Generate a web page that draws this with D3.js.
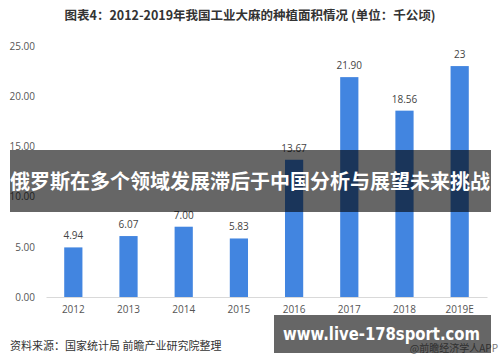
<!DOCTYPE html>
<html lang="zh">
<head>
<meta charset="UTF-8">
<script src="https://cdnjs.cloudflare.com/ajax/libs/d3/7.8.5/d3.min.js"></script>
<style>
    body { margin: 0; background: #fff; }
    svg { display: block; font-family: "Noto Sans CJK SC", "DejaVu Sans", sans-serif; }
</style>
</head>
<body>
<svg id="chart" width="500" height="362"></svg>
<script>
    // data
    var years = ['2012', '2013', '2014', '2015', '2016', '2017', '2018', '2019E'];
    var area = [4.94, 6.07, 7.00, 5.83, 13.67, 21.90, 18.56, 23];
    var areaLabels = ['4.94', '6.07', '7.00', '5.83', '13.67', '21.90', '18.56', '23'];
    var yTicks = [0, 5, 10, 15, 20, 25];

    var svg = d3.select('#chart');

    var x = d3.scaleBand().domain(years).range([46, 487]).paddingInner(0.67).paddingOuter(0.33);
    var y = d3.scaleLinear().domain([0, 25]).range([297, 46]);

    // title
    svg.append('text')
        .attr('x', 250).attr('y', 20)
        .attr('text-anchor', 'middle')
        .attr('font-size', 12.5).attr('font-weight', 'bold').attr('fill', '#333')
        .text('图表4：2012-2019年我国工业大麻的种植面积情况 (单位：千公顷)');

    // y axis labels only
    var yAxis = d3.axisLeft(y).tickValues(yTicks).tickSize(0).tickPadding(0)
        .tickFormat(d3.format('.2f'));
    var gy = svg.append('g').attr('transform', 'translate(35,0)').call(yAxis);
    gy.select('.domain').remove();
    gy.selectAll('text').attr('font-size', 10).attr('fill', '#555')
        .style('font-family', '"Open Sans", "DejaVu Sans", sans-serif');

    // x axis
    var xAxis = d3.axisBottom(x).tickSize(0).tickPadding(9);
    var gx = svg.append('g').attr('transform', 'translate(0,' + y(0) + ')').call(xAxis);
    gx.select('.domain').attr('stroke', '#d9d9d9');
    gx.selectAll('text').attr('font-size', 10).attr('fill', '#555')
        .style('font-family', '"Open Sans", "DejaVu Sans", sans-serif');

    // bars
    svg.selectAll('.bar')
        .data(area)
        .enter().append('rect')
        .attr('class', 'bar')
        .attr('x', function(d, i) { return x(years[i]); })
        .attr('width', x.bandwidth())
        .attr('y', function(d) { return y(d); })
        .attr('height', function(d) { return y(0) - y(d); })
        .attr('fill', '#4285e0');

    svg.selectAll('.val')
        .data(area)
        .enter().append('text')
        .attr('class', 'val')
        .attr('x', function(d, i) { return x(years[i]) + x.bandwidth() / 2; })
        .attr('y', function(d) { return y(d) - 8; })
        .attr('text-anchor', 'middle')
        .attr('font-size', 10).attr('fill', '#444')
        .style('font-family', '"Open Sans", "DejaVu Sans", sans-serif')
        .text(function(d, i) { return areaLabels[i]; });

    // source
    svg.append('text')
        .attr('x', 10).attr('y', 350)
        .attr('font-size', 11).attr('fill', '#333')
        .text('资料来源：国家统计局 前瞻产业研究院整理');

    svg.append('text')
        .attr('x', 498).attr('y', 352)
        .attr('text-anchor', 'end')
        .attr('font-size', 10).attr('fill', '#777')
        .text('@前瞻经济学人APP');

    // overlay banner
    svg.append('rect')
        .attr('x', 10).attr('y', 150).attr('width', 481).attr('height', 62)
        .attr('fill', 'rgba(0,0,0,0.6)');
    svg.append('text')
        .attr('x', 250).attr('y', 189)
        .attr('text-anchor', 'middle')
        .attr('font-size', 20).attr('font-weight', 'bold').attr('fill', '#fff')
        .text('俄罗斯在多个领域发展滞后于中国分析与展望未来挑战');

    // url box
    svg.append('rect')
        .attr('x', 274).attr('y', 315).attr('width', 217).attr('height', 38)
        .attr('fill', 'rgba(0,0,0,0.6)');
    svg.append('text')
        .attr('x', 283).attr('y', 340)
        .attr('font-size', 17).attr('font-weight', 'bold').attr('fill', '#fff')
        .attr('textLength', 197).attr('lengthAdjust', 'spacingAndGlyphs')
        .style('font-family', '"DejaVu Sans", sans-serif')
        .text('www.live-178sport.com');
</script>
</body>
</html>
